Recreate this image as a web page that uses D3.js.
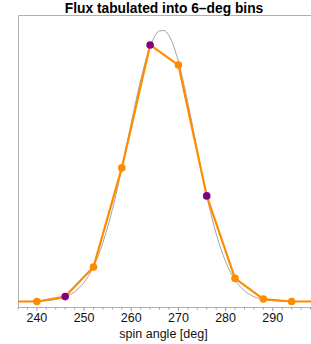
<!DOCTYPE html>
<html>
<head>
<meta charset="utf-8">
<script src="https://cdn.jsdelivr.net/npm/d3@7"></script>
<style>
  body { margin: 0; background: #fff; }
  svg { display: block; }
</style>
</head>
<body>
<div id="chart"></div>
<script>
// binned flux (6-deg bins), normalised so the curve peak = 1
const binAngles = [240, 246, 252, 258, 264, 270, 276, 282, 288, 294];
const binFlux   = [0.0, 0.018, 0.127, 0.492, 0.945, 0.871, 0.389, 0.085, 0.009, 0.0];
const highlighted = [246, 264, 276];

// underlying flux curve
const curveAngles = [236, 240, 244, 246, 248, 250, 252, 254, 256, 258, 260, 262, 264, 266, 267, 268,
                     270, 272, 274, 276, 278, 280, 282, 284, 286, 288, 290, 292, 294, 298];
const curveFlux   = [0.0001, 0.0011, 0.0073, 0.0168, 0.0357, 0.0703, 0.128, 0.217, 0.339, 0.490,
                     0.657, 0.816, 0.937, 0.9965, 0.998, 0.979, 0.884, 0.732, 0.557, 0.389, 0.2495,
                     0.147, 0.079, 0.0394, 0.0179, 0.0075, 0.0029, 0.001, 0.0003, 0.0];

const xTicks = [240, 250, 260, 270, 280, 290];

const W = 311, H = 344;
const mLeft = 18, mRight = 311, mTop = 15, mBottom = 307;

const svg = d3.select("#chart").append("svg")
    .attr("width", W)
    .attr("height", H)
    .style("font-family", "'Liberation Sans', Arial, sans-serif");

const x = d3.scaleLinear().domain([236, 298.1]).range([mLeft, mRight]);
const y = d3.scaleLinear().domain([0, 1]).range([301.5, 30]);

// frame
svg.append("path")
    .attr("d", `M${mLeft + 0.5},${mBottom}V${mTop + 0.5}H${W}`)
    .attr("fill", "none")
    .attr("stroke", "#b0b0b0")
    .attr("stroke-width", 1);

svg.append("clipPath").attr("id", "plot")
  .append("rect")
    .attr("x", mLeft).attr("y", mTop)
    .attr("width", mRight - mLeft).attr("height", mBottom - mTop);

// bottom axis
const minor = d3.range(236, 299, 2).filter(d => d % 10 !== 0);
const axisG = svg.append("g").attr("transform", `translate(0,${mBottom})`);
axisG.append("line")
    .attr("x1", mLeft).attr("x2", mRight)
    .attr("y1", 0.5).attr("y2", 0.5)
    .attr("stroke", "#b0b0b0");
axisG.selectAll(".minor").data(minor).join("line")
    .attr("class", "minor")
    .attr("x1", d => x(d)).attr("x2", d => x(d))
    .attr("y1", 0.5).attr("y2", 2.5)
    .attr("stroke", "#999");
axisG.selectAll(".major").data(xTicks).join("line")
    .attr("class", "major")
    .attr("x1", d => x(d)).attr("x2", d => x(d))
    .attr("y1", 0.5).attr("y2", 4)
    .attr("stroke", "#999");
axisG.selectAll("text").data(xTicks).join("text")
    .attr("x", d => x(d))
    .attr("y", 15)
    .attr("text-anchor", "middle")
    .attr("font-size", 12.5)
    .attr("fill", "#111")
    .text(d => d);

svg.append("text")
    .attr("x", 163.5).attr("y", 338)
    .attr("text-anchor", "middle")
    .attr("font-size", 12.5)
    .attr("fill", "#111")
    .text("spin angle [deg]");

svg.append("text")
    .attr("x", 164).attr("y", 12.5)
    .attr("text-anchor", "middle")
    .attr("font-size", 13.8)
    .attr("font-weight", "bold")
    .attr("fill", "#000")
    .text("Flux tabulated into 6\u2013deg bins");

const plot = svg.append("g").attr("clip-path", "url(#plot)");

// smooth curve
const curvePts = curveAngles.map((a, i) => [a, curveFlux[i]]);
plot.append("path")
    .attr("d", d3.line().x(d => x(d[0])).y(d => y(d[1])).curve(d3.curveMonotoneX)(curvePts))
    .attr("fill", "none")
    .attr("stroke", "#8c8c8c")
    .attr("stroke-width", 0.8);

// binned line, extended flat to the frame edges
const binPts = binAngles.map((a, i) => [a, binFlux[i]]);
const linePts = [[236, binFlux[0]], ...binPts, [298.1, binFlux[binFlux.length - 1]]];
plot.append("path")
    .attr("d", d3.line().x(d => x(d[0])).y(d => y(d[1]))(linePts))
    .attr("fill", "none")
    .attr("stroke", "#ff8c00")
    .attr("stroke-width", 2.2)
    .attr("stroke-linejoin", "round");

plot.selectAll("circle").data(binPts).join("circle")
    .attr("cx", d => x(d[0]))
    .attr("cy", d => y(d[1]))
    .attr("r", 3.8)
    .attr("fill", d => highlighted.includes(d[0]) ? "#800080" : "#ff8c00");
</script>
</body>
</html>
